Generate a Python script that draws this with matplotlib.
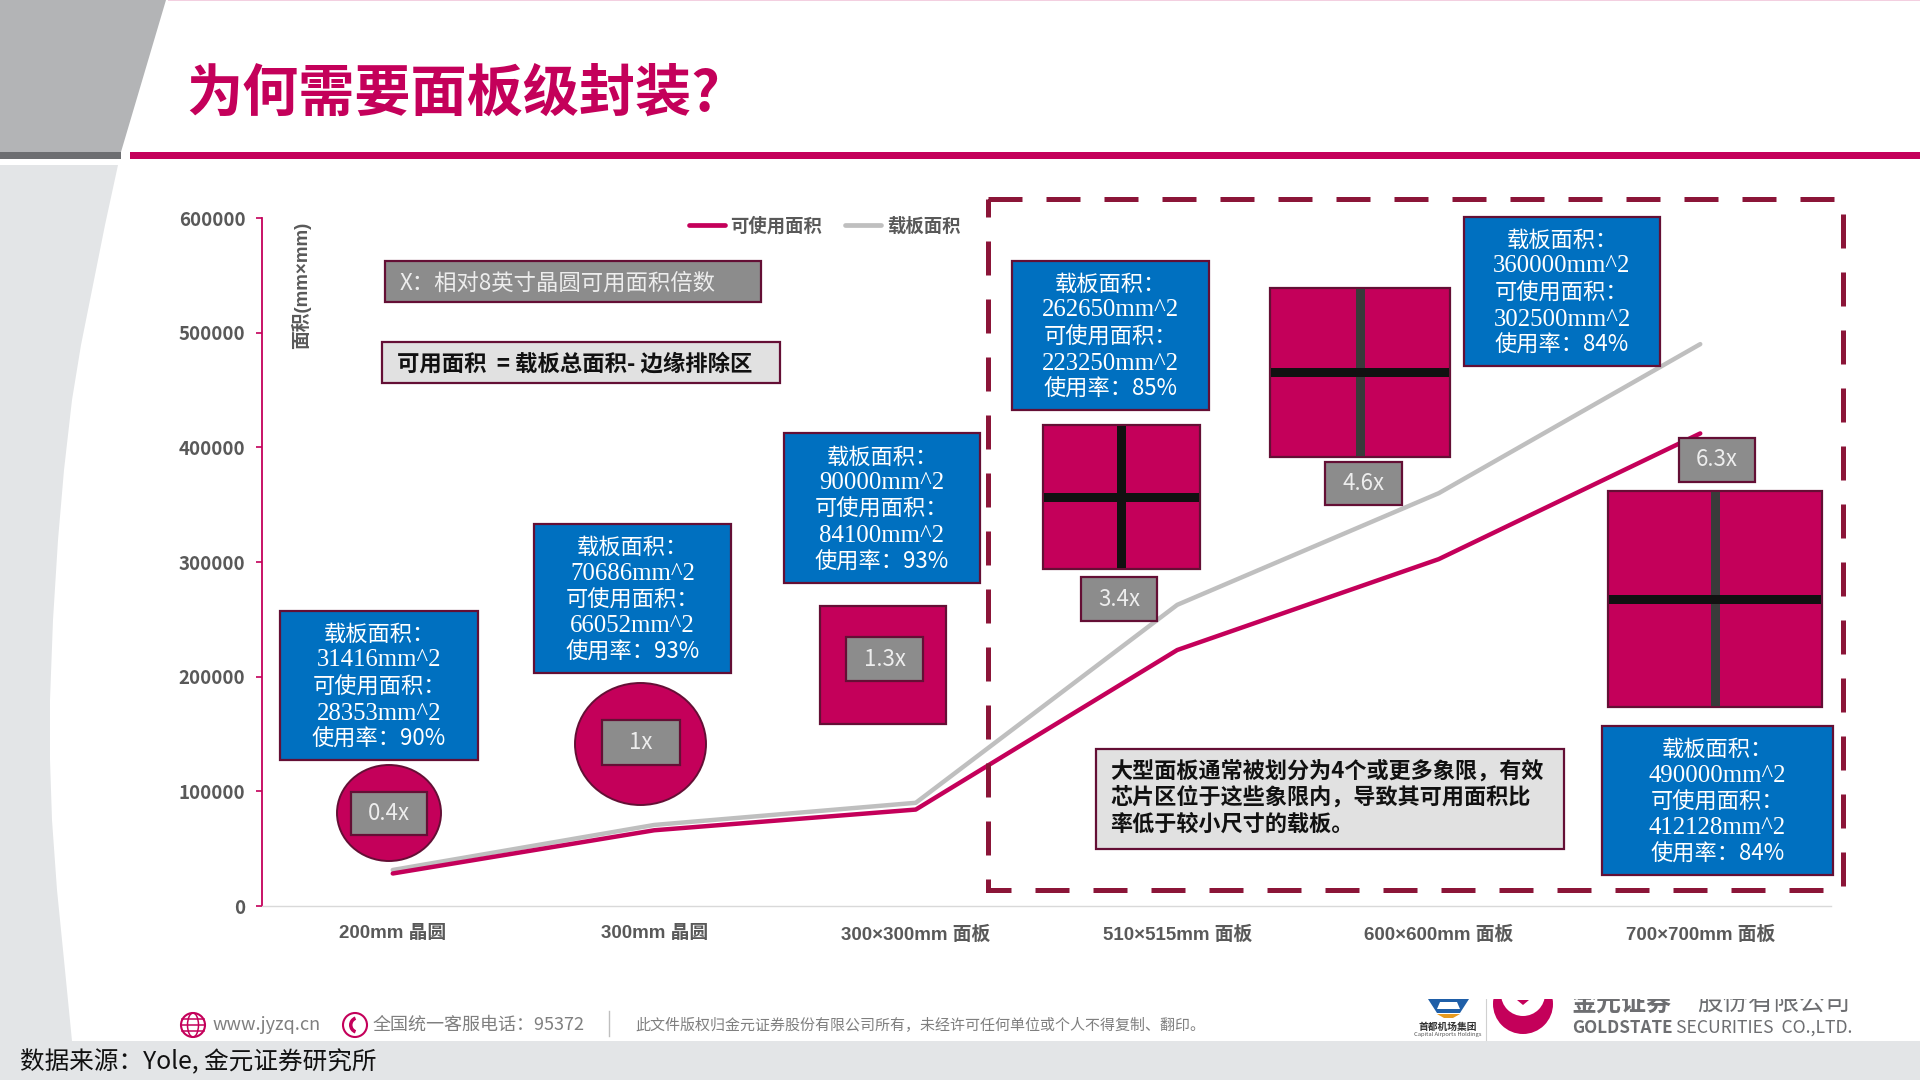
import matplotlib
matplotlib.use("Agg")
import matplotlib.pyplot as plt
from matplotlib.patches import Rectangle, Polygon, Circle, Ellipse, Wedge

plt.rcParams['font.family'] = ['Noto Sans CJK SC', 'DejaVu Sans']

# chart data
categories = ['200mm 晶圆', '300mm 晶圆', '300×300mm 面板', '510×515mm 面板', '600×600mm 面板', '700×700mm 面板']
carrier_area = [31416, 70686, 90000, 262650, 360000, 490000]
usable_area = [28353, 66052, 84100, 223250, 302500, 412128]
usage_rate = [90, 93, 93, 85, 84, 84]
multiples = ['0.4x', '1x', '1.3x', '3.4x', '4.6x', '6.3x']
yticks = [0, 100000, 200000, 300000, 400000, 500000, 600000]

CRIMSON = '#C4005A'
EDGE = '#640F35'
BLUE = '#0070C0'
GREY_BOX = '#8C8C8C'
GREY_TXT = '#595959'
BG = '#E3E5E7'
W, H = 1920, 1080
SERIF = ['Liberation Serif', 'Noto Sans CJK SC']
LATIN_FIRST = ['Liberation Sans', 'Noto Sans CJK SC']

fig = plt.figure(figsize=(19.2, 10.8), dpi=100, facecolor='white')


def pixel_axes(z):
    a = fig.add_axes([0, 0, 1, 1], zorder=z)
    a.set_xlim(0, W)
    a.set_ylim(H, 0)
    a.axis('off')
    a.patch.set_alpha(0)
    return a


bg = pixel_axes(0)
fg = pixel_axes(2)


def box(a, x0, y0, x1, y1, face, edge=EDGE, lw=1.6):
    a.add_patch(Rectangle((x0, y0), x1 - x0, y1 - y0, facecolor=face, edgecolor=edge, linewidth=lw))


# slide background
bg.add_patch(Polygon([(0, 0), (166, 0), (121, 152), (0, 152)], facecolor='#B3B4B6', edgecolor='none'))
bg.add_patch(Rectangle((0, 152), 121, 7, facecolor='#6D6E71', edgecolor='none'))
bg.add_patch(Rectangle((130, 152), W - 130, 7, facecolor=CRIMSON, edgecolor='none'))
bg.add_patch(Rectangle((168, 0), W - 168, 1.2, facecolor='#F3CFE0', edgecolor='none'))
bg.add_patch(Polygon([(0, 165), (118, 165), (105, 225), (92, 290), (81, 345), (72, 400), (64, 470), (58, 540),
                      (53, 620), (50, 700), (50, 760), (52, 820), (57, 890), (64, 960), (72, 1041), (0, 1041)],
                     facecolor=BG, edgecolor='none'))
bg.add_patch(Rectangle((0, 1041), W, 39, facecolor=BG, edgecolor='none'))

bg.text(186, 95, '为何需要面板级封装?', color=CRIMSON, fontsize=40.4, fontweight='bold', va='center', ha='left')
bg.text(20, 1062, '数据来源：Yole, 金元证券研究所', color='#111111', fontsize=17.7, va='center', ha='left')

# footer
bg.add_patch(Circle((193, 1025), 12, facecolor='none', edgecolor=CRIMSON, linewidth=1.5))
bg.add_patch(Ellipse((193, 1025), 11, 24, facecolor='none', edgecolor=CRIMSON, linewidth=1.1))
for dy in (-6, 0, 6):
    bg.plot([182, 204], [1025 + dy, 1025 + dy], color=CRIMSON, lw=1.1)
bg.text(213, 1025, 'www.jyzq.cn', color='#7F7F7F', fontsize=13, va='center', ha='left')
bg.add_patch(Circle((355, 1025), 12, facecolor='none', edgecolor=CRIMSON, linewidth=1.5))
bg.add_patch(Wedge((358, 1025), 9, 110, 250, width=3.5, facecolor=CRIMSON, edgecolor='none'))
bg.text(373, 1025, '全国统一客服电话：95372', color='#7F7F7F', fontsize=13, va='center', ha='left')
bg.plot([609, 609], [1011, 1036], color='#BFBFBF', lw=1)
bg.text(635, 1025, '此文件版权归金元证券股份有限公司所有，未经许可任何单位或个人不得复制、翻印。',
        color='#7F7F7F', fontsize=10.8, va='center', ha='left')

# logos, top part is cut off in the source
bg.add_patch(Polygon([(1428, 999), (1469, 999), (1460, 1013), (1437, 1013)], facecolor='#1F5FA8', edgecolor='none'))
bg.add_patch(Polygon([(1440, 1002), (1457, 1002), (1460, 1009), (1437, 1009)], facecolor='white', edgecolor='none'))
bg.add_patch(Polygon([(1437, 1014), (1460, 1014), (1453, 1018), (1444, 1018)], facecolor='#E79A1E', edgecolor='none'))
bg.text(1448, 1027, '首都机场集团', color='#333333', fontsize=7, fontweight='bold', ha='center', va='center')
bg.text(1448, 1034.5, 'Capital Airports Holdings', color='#555555', fontsize=4.2, ha='center', va='center')
bg.plot([1486, 1486], [999, 1040], color='#D0D0D0', lw=0.8)
bg.add_patch(Circle((1523, 1004), 30, facecolor=CRIMSON, edgecolor='none'))
bg.add_patch(Circle((1523, 994), 22, facecolor='white', edgecolor='none'))
bg.add_patch(Polygon([(1517, 1000), (1529, 1000), (1523, 1005)], facecolor=CRIMSON, edgecolor='none'))
bg.text(1572, 1004, '金元证券', color='#6D6E71', fontsize=18, fontweight='bold', ha='left', va='center')
bg.text(1697, 1004, '股份有限公司', color='#6D6E71', fontsize=18.4, ha='left', va='center')
bg.add_patch(Rectangle((1420, 975), 440, 24, facecolor='white', edgecolor='none', zorder=5))
bg.text(1572, 1028, 'GOLDSTATE', color='#6D6E71', fontsize=12.3, fontweight='bold', ha='left', va='center')
bg.text(1676, 1028, 'SECURITIES  CO.,LTD.', color='#6D6E71', fontsize=12.7, ha='left', va='center')

# chart
ax = fig.add_axes([262 / W, 1 - 906 / H, (1831 - 262) / W, (906 - 218) / H], zorder=1)
ax.patch.set_alpha(0)
xs = list(range(len(categories)))
ax.plot(xs, carrier_area, color='#BFBFBF', lw=3.2, solid_capstyle='round')
ax.plot(xs, usable_area, color=CRIMSON, lw=3.2, solid_capstyle='round')
ax.set_xlim(-0.5, 5.5)
ax.set_ylim(0, 600000)
ax.set_xticks(xs)
ax.set_xticklabels(categories, fontsize=13.5, fontweight='bold', color=GREY_TXT, family=LATIN_FIRST)
ax.set_yticks(yticks)
ax.set_yticklabels([str(v) for v in yticks], fontsize=13.5, fontweight='bold', color=GREY_TXT)
ax.tick_params(axis='x', length=0, pad=14)
ax.tick_params(axis='y', length=4, width=1.2, color=CRIMSON, pad=8)
ax.spines['top'].set_visible(False)
ax.spines['right'].set_visible(False)
ax.spines['left'].set_color(CRIMSON)
ax.spines['left'].set_linewidth(1.3)
ax.spines['bottom'].set_color('#D9D9D9')
ax.spines['bottom'].set_linewidth(1)

fg.text(301, 285, '面积(mm×mm)', rotation=90, color=GREY_TXT, fontsize=13.5, fontweight='bold',
        family=LATIN_FIRST, ha='center', va='center')

# legend
fg.plot([689, 725], [225, 225], color=CRIMSON, lw=3.4, solid_capstyle='round')
fg.text(730, 226, '可使用面积', color=GREY_TXT, fontsize=13.2, fontweight='bold', ha='left', va='center')
fg.plot([845, 881], [225, 225], color='#BFBFBF', lw=3.4, solid_capstyle='round')
fg.text(887, 226, '载板面积', color=GREY_TXT, fontsize=13.2, fontweight='bold', ha='left', va='center')

# note boxes
box(fg, 385, 261, 761, 302, GREY_BOX)
fg.text(400, 283, 'X：相对8英寸晶圆可用面积倍数', color='#EDEDED', fontsize=16.1, ha='left', va='center')
box(fg, 382, 342, 780, 383, '#E1E1E1')
fg.text(397, 364, '可用面积  = 载板总面积- 边缘排除区', color='#111111', fontsize=16.1, fontweight='bold', ha='left', va='center')
box(fg, 1096, 749, 1564, 849, '#E1E1E1')
note_lines = ['大型面板通常被划分为4个或更多象限，有效', '芯片区位于这些象限内，导致其可用面积比', '率低于较小尺寸的载板。']
for i, line in enumerate(note_lines):
    fg.text(1110, 771 + i * 26.5, line, color='#111111', fontsize=15.9, fontweight='bold', ha='left', va='center')

# dashed frame around the panel formats
fg.add_patch(Rectangle((988, 199), 855, 691, facecolor='none', edgecolor='#8B1538', linewidth=3.6,
                       linestyle=(0, (6.8, 4.8))))

# blue info boxes
blue_boxes = [(280, 611, 478, 760), (534, 524, 731, 673), (784, 433, 980, 583),
              (1012, 261, 1209, 410), (1464, 217, 1660, 366), (1602, 726, 1833, 875)]
for i, (x0, y0, x1, y1) in enumerate(blue_boxes):
    box(fg, x0, y0, x1, y1, BLUE)
    cx = (x0 + x1) / 2
    y = (y0 + y1) / 2 - 51
    fg.text(cx, y, '载板面积：', color='white', fontsize=16, ha='center', va='center')
    fg.text(cx, y + 26, f'{carrier_area[i]}mm^2', color='white', fontsize=17.8, family=SERIF, ha='center', va='center')
    fg.text(cx, y + 52.5, '可使用面积：', color='white', fontsize=16, ha='center', va='center')
    fg.text(cx, y + 79, f'{usable_area[i]}mm^2', color='white', fontsize=17.8, family=SERIF, ha='center', va='center')
    fg.text(cx, y + 105, f'使用率：{usage_rate[i]}%', color='white', fontsize=16, ha='center', va='center')

# wafers and panels
fg.add_patch(Ellipse((389, 813), 104, 96, facecolor=CRIMSON, edgecolor=EDGE, linewidth=1.4))
fg.add_patch(Ellipse((640.5, 744), 131, 122, facecolor=CRIMSON, edgecolor=EDGE, linewidth=1.4))
box(fg, 820, 606, 946, 724, CRIMSON)

panels = [(1043, 425, 1200, 569, '#111111'), (1270, 288, 1450, 457, '#3A3A3A'), (1608, 491, 1822, 707, '#3A3A3A')]
for x0, y0, x1, y1, vcol in panels:
    box(fg, x0, y0, x1, y1, CRIMSON)
    cx = (x0 + x1) / 2
    cy = (y0 + y1) / 2
    fg.add_patch(Rectangle((cx - 4.5, y0 + 1), 9, y1 - y0 - 2, facecolor=vcol, edgecolor='none'))
    fg.add_patch(Rectangle((x0 + 1, cy - 4.5), x1 - x0 - 2, 9, facecolor='#111111', edgecolor='none'))

# multiple labels
label_boxes = [(351, 792, 427, 835), (602, 720, 680, 765), (846, 637, 923, 681),
               (1081, 577, 1157, 621), (1325, 462, 1402, 505), (1679, 438, 1755, 482)]
for (x0, y0, x1, y1), label in zip(label_boxes, multiples):
    box(fg, x0, y0, x1, y1, GREY_BOX)
    fg.text((x0 + x1) / 2, (y0 + y1) / 2, label, color='#EDEDED', fontsize=16, ha='center', va='center')

fig.savefig('out.png', dpi=100)
